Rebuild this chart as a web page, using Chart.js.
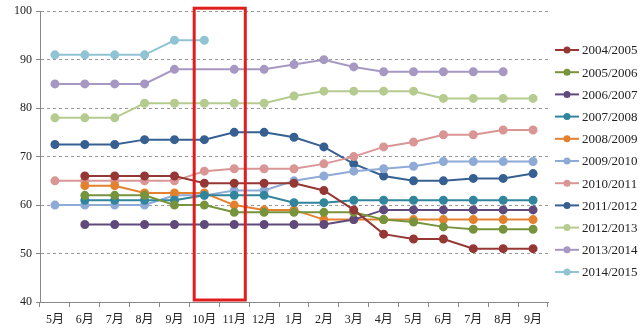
<!DOCTYPE html>
<html>
<head>
<meta charset="utf-8">
<script src="https://cdn.jsdelivr.net/npm/chart.js@4.4.1/dist/chart.umd.min.js"></script>
<style>
  html, body { margin: 0; padding: 0; background: #fff; }
  #wrap { width: 640px; height: 333px; }
</style>
</head>
<body>
<div id="wrap"><canvas id="seasonChart"></canvas></div>
<script>
const months = ['5月','6月','7月','8月','9月','10月','11月','12月','1月','2月','3月','4月','5月','6月','7月','8月','9月'];
const seasons = ['2004/2005','2005/2006','2006/2007','2007/2008','2008/2009','2009/2010','2010/2011','2011/2012','2012/2013','2013/2014','2014/2015'];
const yTicks = [40, 100, 10]; // min, max, step

const s0405 = [null,66,66,66,66,64.5,64.5,64.5,64.5,63,59,54,53,53,51,51,51];
const s0506 = [null,62,62,62,60,60,58.5,58.5,58.5,58.5,58.5,57,56.5,55.5,55,55,55];
const s0607 = [null,56,56,56,56,56,56,56,56,56,57,59,59,59,59,59,59];
const s0708 = [null,61,61,61,61,62,62,62,60.5,60.5,61,61,61,61,61,61,61];
const s0809 = [null,64,64,62.5,62.5,62.5,60,59,59,57,57,57,57,57,57,57,57];
const s0910 = [60,60,60,60,62,62,63,63,65,66,67,67.5,68,69,69,69,69];
const s1011 = [65,65,65,65,65,67,67.5,67.5,67.5,68.5,70,72,73,74.5,74.5,75.5,75.5];
const s1112 = [72.5,72.5,72.5,73.5,73.5,73.5,75,75,74,72,68.5,66,65,65,65.5,65.5,66.5];
const s1213 = [78,78,78,81,81,81,81,81,82.5,83.5,83.5,83.5,83.5,82,82,82,82];
const s1314 = [85,85,85,85,88,null,88,88,89,90,88.5,87.5,87.5,87.5,87.5,87.5,null];
const s1415 = [91,91,91,91,94,94];

const seriesValues = [s0405, s0506, s0607, s0708, s0809, s0910, s1011, s1112, s1213, s1314, s1415];
const colors = ['#953735','#77933c','#604a7b','#31859c','#e3812f','#8eaad6','#d99694','#376092','#b5cb8f','#a698c2','#90c4d3'];

const serif = "'Liberation Serif', 'DejaVu Serif', 'Noto Sans CJK SC', serif";

const datasets = seasons.map((name, i) => ({
  label: name,
  data: seriesValues[i],
  borderColor: colors[i],
  backgroundColor: colors[i],
  pointBackgroundColor: colors[i],
  pointBorderColor: colors[i],
  borderWidth: 2,
  pointRadius: 3.5,
  pointHoverRadius: 3.5,
  tension: 0,
  spanGaps: true
}));

// Excel-like legend on the right side
const sideLegend = {
  id: 'sideLegend',
  afterDraw(chart) {
    const ctx = chart.ctx;
    ctx.save();
    ctx.font = '13px ' + serif;
    ctx.textBaseline = 'middle';
    ctx.textAlign = 'left';
    chart.data.datasets.forEach((ds, i) => {
      const y = 50 + i * 22.2;
      ctx.strokeStyle = ds.borderColor;
      ctx.lineWidth = 2;
      ctx.beginPath();
      ctx.moveTo(555, y);
      ctx.lineTo(579, y);
      ctx.stroke();
      ctx.fillStyle = ds.borderColor;
      ctx.beginPath();
      ctx.arc(567, y, 3.5, 0, Math.PI * 2);
      ctx.fill();
      ctx.fillStyle = '#222';
      ctx.fillText(ds.label, 582, y + 1);
    });
    ctx.restore();
  }
};

// red box around 10月 / 11月
const highlightBox = {
  id: 'highlightBox',
  afterDatasetsDraw(chart) {
    const x = chart.scales.x, y = chart.scales.y;
    const w = x.getPixelForValue(1) - x.getPixelForValue(0);
    const left = x.getPixelForValue(5) - 0.34 * w;
    const right = x.getPixelForValue(6) + 0.37 * w;
    const top = y.getPixelForValue(yTicks[1]) - 3;
    const bottom = y.getPixelForValue(yTicks[0]) - 2;
    const ctx = chart.ctx;
    ctx.save();
    ctx.strokeStyle = '#e01e1e';
    ctx.lineWidth = 3;
    ctx.strokeRect(left, top, right - left, bottom - top);
    ctx.restore();
  }
};

new Chart(document.getElementById('seasonChart'), {
  type: 'line',
  data: { labels: months, datasets: datasets },
  options: {
    responsive: true,
    maintainAspectRatio: false,
    animation: false,
    layout: { padding: { top: 9, right: 92, left: 0, bottom: 0 } },
    plugins: {
      legend: { display: false },
      tooltip: { enabled: false }
    },
    scales: {
      x: {
        offset: true,
        grid: { offset: true, drawOnChartArea: false, drawTicks: true, tickLength: 5, color: '#888' },
        border: { color: '#888' },
        ticks: { autoSkip: false, maxRotation: 0, padding: 6, color: '#222', font: { family: serif, size: 12 } },
        afterFit: s => { s.height = 31; }
      },
      y: {
        min: yTicks[0],
        max: yTicks[1],
        ticks: { stepSize: yTicks[2], padding: 4, color: '#222', font: { family: serif, size: 12 } },
        grid: { color: '#999', tickLength: 4, tickColor: '#888' },
        border: { color: '#888', dash: [3, 3] },
        afterFit: s => { s.width = 40; }
      }
    }
  },
  plugins: [sideLegend, highlightBox]
});
</script>
</body>
</html>
